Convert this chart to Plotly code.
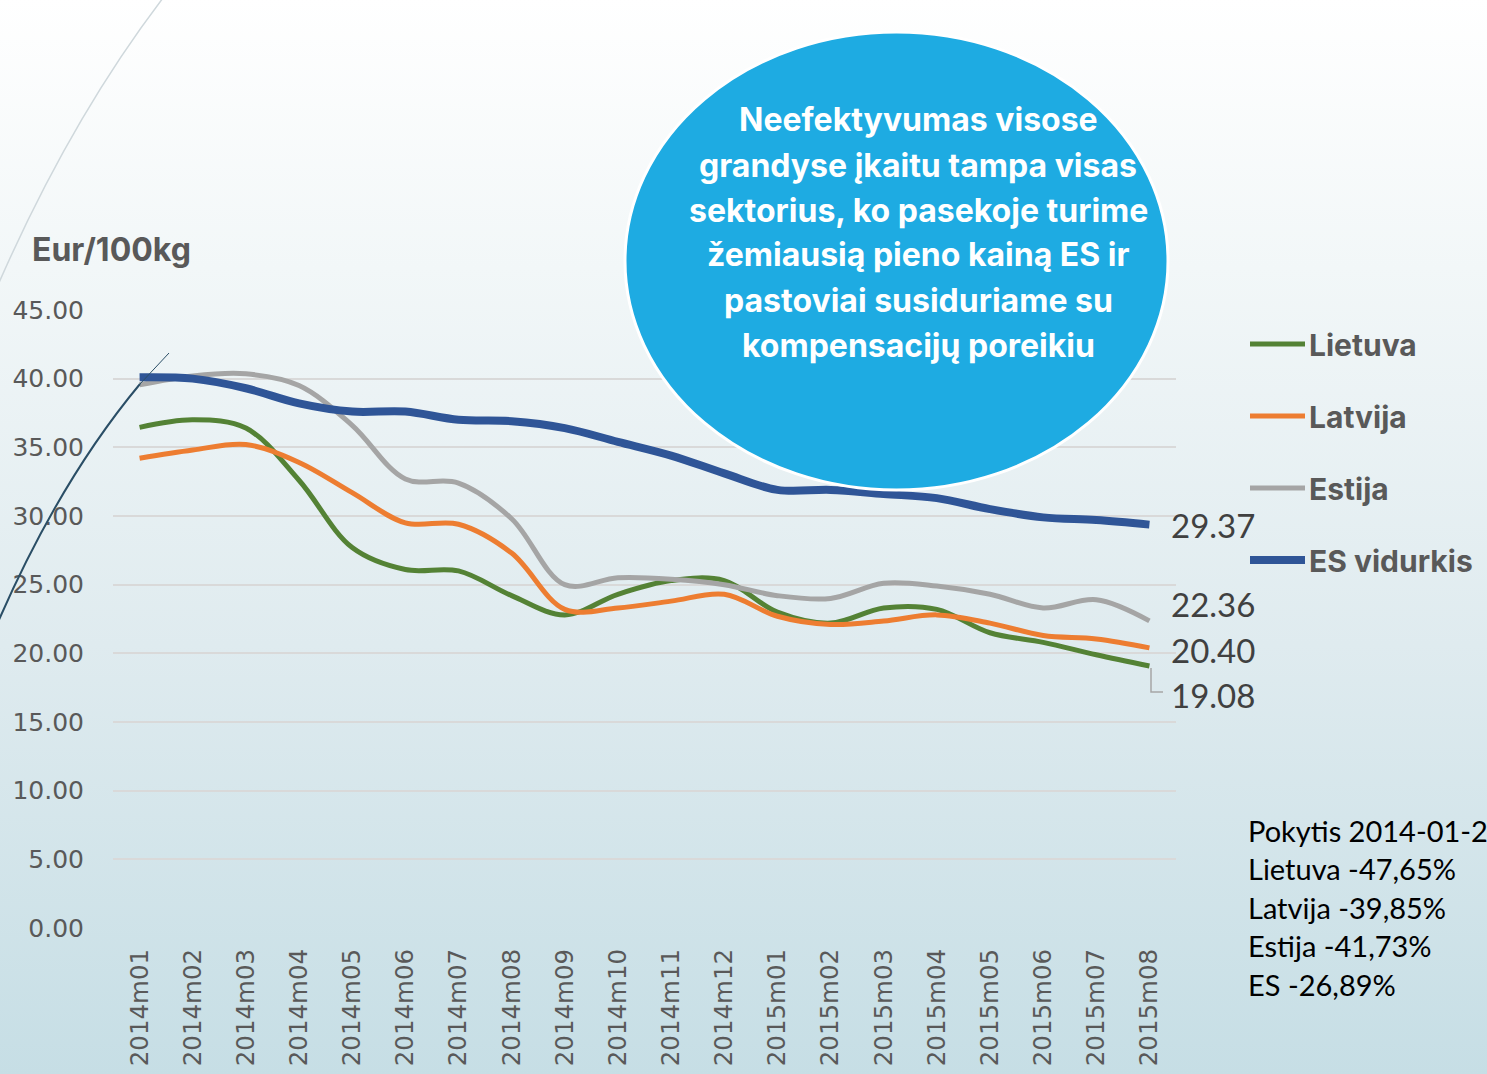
import base64
import plotly.graph_objects as go

months = ['2014m01', '2014m02', '2014m03', '2014m04', '2014m05', '2014m06', '2014m07',
          '2014m08', '2014m09', '2014m10', '2014m11', '2014m12', '2015m01', '2015m02',
          '2015m03', '2015m04', '2015m05', '2015m06', '2015m07', '2015m08']

lietuva = [36.45, 37.0, 36.4, 32.6, 27.7, 26.1, 26.0, 24.2, 22.8, 24.3, 25.3, 25.3,
           23.0, 22.2, 23.3, 23.2, 21.5, 20.8, 19.9, 19.08]
latvija = [34.2, 34.8, 35.2, 33.9, 31.7, 29.5, 29.4, 27.3, 23.2, 23.3, 23.8, 24.3,
           22.7, 22.1, 22.35, 22.8, 22.2, 21.3, 21.05, 20.40]
estija = [39.55, 40.2, 40.35, 39.5, 36.6, 32.7, 32.4, 29.8, 25.0, 25.5, 25.4, 25.0,
          24.2, 24.0, 25.1, 24.9, 24.3, 23.3, 23.9, 22.36]
es = [40.1, 40.0, 39.3, 38.2, 37.6, 37.6, 37.0, 36.9, 36.4, 35.4, 34.4, 33.1,
      31.9, 31.9, 31.6, 31.3, 30.5, 29.9, 29.7, 29.37]

series_names = ['Lietuva', 'Latvija', 'Estija', 'ES vidurkis']
series_colors = ['#548235', '#ed7d31', '#a5a5a5', '#2f5597']
series_widths = [5, 5, 5, 8]

bubble_lines = ['Neefektyvumas visose', 'grandyse įkaitu tampa visas',
                'sektorius, ko pasekoje turime', 'žemiausią pieno kainą ES ir',
                'pastoviai susiduriame su', 'kompensacijų poreikiu']
change_lines = ['Pokytis 2014-01-2015-08', 'Lietuva -47,65%', 'Latvija -39,85%',
                'Estija -41,73%', 'ES -26,89%']

W, H = 1487, 1074
L, R, T, B = 113, 1176, 309, 929

def px(x):
  return (x - L) / (R - L)

def py(y):
  return (B - y) / (B - T)

GREY_TXT = '#595959'
BODY = 'Lato, "Open Sans", sans-serif'
BOLD = 'Inter, Lato, sans-serif'

fig = go.Figure()

for values, name, color, width in zip([lietuva, latvija, estija, es], series_names,
                                      series_colors, series_widths):
  fig.add_trace(go.Scatter(
    x = months, y = values, name = name, mode = 'lines', showlegend = False,
    line = {'color': color, 'width': width, 'shape': 'spline', 'smoothing': 1},
    hoverinfo = 'skip'
  ))

# background gradient
svg = ('<svg xmlns="http://www.w3.org/2000/svg" width="100" height="100" preserveAspectRatio="none">'
       '<defs><linearGradient id="g" x1="0" y1="0" x2="0" y2="1">'
       '<stop offset="0" stop-color="#ffffff"/><stop offset="0.25" stop-color="#f2f7f8"/>'
       '<stop offset="0.6" stop-color="#dfebef"/><stop offset="1" stop-color="#c6dee5"/>'
       '</linearGradient></defs><rect width="100" height="100" fill="url(#g)"/></svg>')
fig.add_layout_image(
  source = 'data:image/svg+xml;base64,' + base64.b64encode(svg.encode()).decode(),
  xref = 'paper', yref = 'paper', x = px(-2), y = py(-2),
  sizex = px(W + 2) - px(-2), sizey = py(-2) - py(H + 2),
  xanchor = 'left', yanchor = 'top', sizing = 'stretch', layer = 'below'
)

def path(points, ctrl=None):
  # quadratic curve through pixel points
  (x0, y0), (x1, y1) = points
  if ctrl:
    cx, cy = ctrl
    return f'M {px(x0)},{py(y0)} Q {px(cx)},{py(cy)} {px(x1)},{py(y1)}'
  return f'M {px(x0)},{py(y0)} L {px(x1)},{py(y1)}'

shapes = [
  # decorative arcs
  dict(type = 'path', xref = 'paper', yref = 'paper', path = path([(163, -2), (-2, 285)], (70, 120)),
       line = {'color': '#cfd8dc', 'width': 1.5}),
  dict(type = 'path', xref = 'paper', yref = 'paper', path = path([(-2, 622), (140, 384)], (60, 480)),
       line = {'color': '#2a4e66', 'width': 2}),
  dict(type = 'path', xref = 'paper', yref = 'paper', path = path([(140, 384), (169, 353)]),
       line = {'color': '#2a4e66', 'width': 1}),
  # bubble
  dict(type = 'circle', xref = 'paper', yref = 'paper', x0 = px(625), x1 = px(1168),
       y0 = py(490), y1 = py(32), fillcolor = '#1eabe2', line = {'color': 'white', 'width': 3}),
  # leader line for 19.08
  dict(type = 'path', xref = 'paper', yref = 'paper',
       path = f'M {px(1151)},{py(668)} L {px(1151)},{py(692)} L {px(1163)},{py(692)}',
       line = {'color': '#a6a6a6', 'width': 1.5}),
]

annotations = []
# legend drawn by hand
for i, (name, color, width) in enumerate(zip(series_names, series_colors, series_widths)):
  ly = 344 + 72 * i
  shapes.append(dict(type = 'line', xref = 'paper', yref = 'paper', x0 = px(1250), x1 = px(1305),
                     y0 = py(ly), y1 = py(ly), line = {'color': color, 'width': width}))
  annotations.append(dict(xref = 'paper', yref = 'paper', x = px(1307), y = py(ly + 1),
                          text = f'<b>{name}</b>', showarrow = False, xanchor = 'left', yanchor = 'middle',
                          font = {'family': BOLD, 'size': 30, 'color': GREY_TXT}))
fig.update_layout(shapes = shapes)

for i, t in enumerate(bubble_lines):
  annotations.append(dict(xref = 'paper', yref = 'paper', x = px(918), y = py(120 + 45 * i),
                          text = f'<b>{t}</b>', showarrow = False, xanchor = 'center', yanchor = 'middle',
                          font = {'family': BOLD, 'size': 32, 'color': 'white'}))
for i, t in enumerate(change_lines):
  annotations.append(dict(xref = 'paper', yref = 'paper', x = px(1246), y = py(830 + 38.5 * i),
                          text = t, showarrow = False, xanchor = 'left', yanchor = 'middle',
                          font = {'family': BODY, 'size': 29, 'color': 'black'}))
annotations.append(dict(xref = 'paper', yref = 'paper', x = px(30), y = py(250),
                        text = '<b>Eur/100kg</b>', showarrow = False, xanchor = 'left', yanchor = 'middle',
                        font = {'family': BOLD, 'size': 32, 'color': GREY_TXT}))
for values, dy in [(es, 0), (estija, 17), (latvija, -2), (lietuva, -29)]:
  annotations.append(dict(x = months[-1], y = values[-1], text = f'{values[-1]:.2f}', showarrow = False,
                          xanchor = 'left', yanchor = 'middle', xshift = 20, yshift = dy,
                          font = {'family': BODY, 'size': 33, 'color': '#404040'}))
fig.update_layout(annotations = annotations)

fig.update_xaxes(
  type = 'category', range = [-0.5, 19.5], showgrid = False, showline = False, ticks = '',
  tickangle = -90, ticklabelstandoff = 14, automargin = False,
  tickfont = {'family': 'DejaVu Sans', 'size': 24.5, 'color': GREY_TXT}
)
fig.update_yaxes(
  range = [-0.07, 45.07], tickvals = [0, 5, 10, 15, 20, 25, 30, 35, 40, 45], tickformat = '.2f',
  showgrid = True, gridcolor = '#d9d9d9', gridwidth = 2, zeroline = False, showline = False,
  ticks = '', ticklabelstandoff = 28, automargin = False,
  tickfont = {'family': 'DejaVu Sans', 'size': 25, 'color': GREY_TXT}
)

fig.update_layout(
  width = W, height = H, autosize = False,
  margin = {'l': L, 'r': W - R, 't': T, 'b': H - B, 'pad': 0},
  paper_bgcolor = 'white', plot_bgcolor = 'rgba(0,0,0,0)',
  showlegend = False,
)

fig.write_html('out.html', config = {'responsive': False, 'displayModeBar': False},
               post_script = "document.body.style.margin='0';")
